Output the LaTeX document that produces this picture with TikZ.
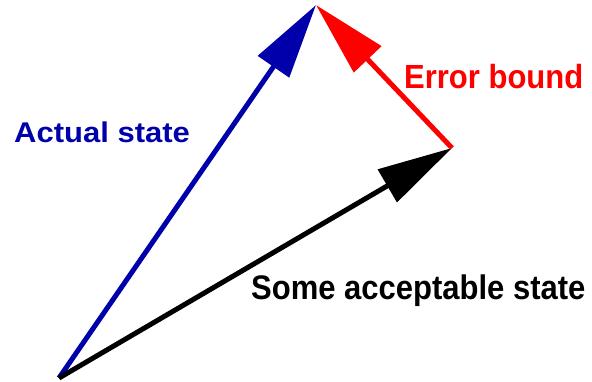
\documentclass[tikz,border=0pt]{standalone}
\usepackage{fontspec}
\setmainfont{Liberation Sans}
\usepackage{xcolor}
\usepackage{graphicx}
\usetikzlibrary{arrows.meta, positioning}
\definecolor{actualblue}{RGB}{0,0,170}
\newcommand{\vstretch}[2]{\scalebox{1}[#1]{#2}}

\begin{document}
\begin{tikzpicture}[x=1pt, y=-1pt,
        vec/.style={line width=5pt, -{Triangle[length=75pt, width=37pt]}},
        lbl/.style={anchor=base west, inner sep=0pt, font=\fontsize{31}{36}\selectfont\bfseries}
    ]
        \useasboundingbox (0,0) rectangle (592,381);
        \coordinate (origin) at (59,378);
        \coordinate (actual) at (316,5);
        \coordinate (accept) at (452,148);
        \draw [vec, actualblue] (origin) -- (actual);
        \draw [vec, black] (origin) -- (accept);
        \draw [vec, red] (accept) -- (actual);
        \node (lactual) [lbl, text=actualblue] at (14,142) {\vstretch{0.92}{Actual state}};
        \node (lerror) [lbl, text=red] at (404,88) {\vstretch{1.08}{Error bound}};
        \node (laccept) [lbl, text=black] at (251,299) {\vstretch{1.1}{Some acceptable state}};
    \end{tikzpicture}
\end{document}
